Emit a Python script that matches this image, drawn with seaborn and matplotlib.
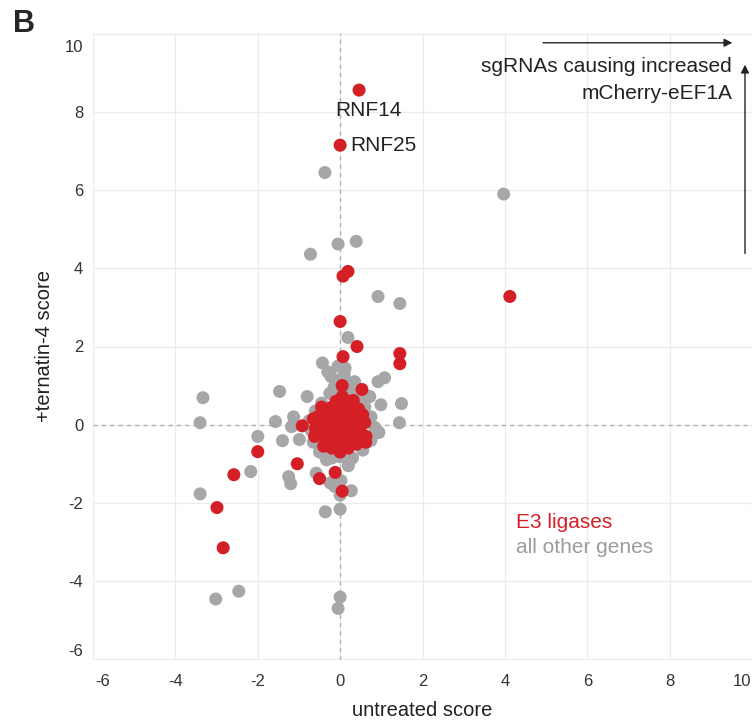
import pandas as pd
import seaborn as sns
import numpy as np
import matplotlib.pyplot as plt
import matplotlib.transforms as mtrans

# gray points: all other genes (untreated score, ternatin-4 score)
gray_x = [-0.37, 3.97, -0.05, 0.39, -0.72, 0.92, 1.45, 0.19, -0.43, -0.05,
          0.12, -0.22, 0.07, 0.92, 1.08, -1.47, -0.80, 0.36, 0.72, 0.99,
          1.49, 1.44, 0.94, -3.33, -3.40, -1.57, -1.13, -1.18, -1.40, -0.99,
          -2.00, -2.17, -1.25, -1.20, -3.40, 0.27, -0.36, 0.00, -3.02, -2.46,
          0.00, -0.05, -0.58, -0.33, -0.20, 0.00, -0.24, 0.02, -0.13, 0.00,
          0.20, -0.45, -0.60, 0.50, 0.60, 0.75, 0.84, 0.75, 0.55, -0.65,
          -0.70, -0.75, -0.40, 0.30, 0.15, -0.10, 0.25, -0.25, 0.92, 0.67,
          0.60, -0.60, -0.53, -0.30, 0.10, -0.15, 0.35, 0.45, -0.50, 0.20]
gray_y = [6.45, 5.90, 4.62, 4.69, 4.36, 3.28, 3.10, 2.23, 1.58, 1.50,
          1.45, 1.23, 1.20, 1.10, 1.20, 0.85, 0.72, 0.97, 0.72, 0.51,
          0.54, 0.05, -0.20, 0.69, 0.05, 0.08, 0.20, -0.05, -0.41, -0.38,
          -0.30, -1.20, -1.33, -1.51, -1.77, -1.69, -2.23, -2.16, -4.46, -4.26,
          -4.41, -4.70, -1.24, -0.90, -0.85, -0.82, -1.49, -1.43, -1.58, -1.80,
          -0.95, 0.55, 0.35, 0.60, 0.45, 0.20, -0.07, -0.40, -0.65, -0.45,
          -0.15, 0.10, -0.75, -0.85, 1.05, 1.00, 0.85, 0.80, -0.18, -0.44,
          0.13, -0.18, 0.20, 1.35, 1.30, 0.95, 1.10, 0.75, -0.70, -1.05]

# red points: E3 ligases
red_x = [0.46, 0.00, 4.12, 0.19, 0.07, 0.00, 0.41, 1.45, 1.45, 0.07,
         0.05, 0.53, 0.63, -0.92, -2.00, -2.58, -1.04, -0.50, -0.12, 0.05,
         -2.99, -2.84,
         0.00, 0.15, -0.15, 0.30, -0.30, 0.10, -0.10, 0.20, -0.20, 0.00,
         0.15, -0.10, 0.35, -0.35, 0.45, -0.50, 0.50, -0.50, 0.30, -0.30,
         0.10, -0.10, 0.20, 0.00, -0.60, 0.60, 0.40, -0.40, 0.25, -0.25,
         0.05, -0.05, 0.45, 0.62, -0.55, 0.05, 0.32,
         -0.45, -0.20, 0.10, 0.35, -0.65, 0.55, 0.55, -0.62, -0.35, 0.35,
         -0.15, 0.15, 0.00, -0.30, 0.30, 0.00, 0.20, -0.20, 0.45, -0.45]
red_y = [8.56, 7.15, 3.28, 3.92, 3.80, 2.64, 2.00, 1.82, 1.56, 1.74,
         1.00, 0.90, -0.30, -0.03, -0.69, -1.28, -1.00, -1.38, -1.22, -1.70,
         -2.12, -3.15,
         0.00, 0.10, 0.10, 0.00, 0.00, -0.20, -0.20, 0.30, 0.30, 0.45,
         0.55, 0.60, 0.35, 0.30, 0.10, 0.05, -0.20, -0.25, -0.35, -0.40,
         -0.50, -0.55, -0.60, -0.70, -0.10, 0.05, -0.50, -0.55, 0.15, -0.15,
         0.25, -0.35, 0.40, -0.45, 0.20, 0.72, 0.62,
         0.45, 0.45, 0.35, 0.15, 0.15, 0.25, -0.30, -0.30, -0.15, -0.15,
         -0.40, -0.30, 0.20, 0.15, 0.00, -0.45, 0.60, -0.60, -0.05, -0.05]

ticks = [-6, -4, -2, 0, 2, 4, 6, 8, 10]

red = '#d51f26'
gray = '#a7a7a9'

df = pd.DataFrame({
    'untreated score': gray_x + red_x,
    '+ternatin-4 score': gray_y + red_y,
    'group': ['all other genes'] * len(gray_x) + ['E3 ligases'] * len(red_x),
})

sns.set_theme(style='white')
plt.rcParams['font.family'] = ['Liberation Sans', 'DejaVu Sans']
plt.rcParams['axes.unicode_minus'] = False

fig = plt.figure(figsize=(7.52, 7.23), dpi=100)
ax = fig.add_axes([93 / 752, 63 / 723, 659 / 752, 627 / 723])

# grid and zero lines
for t in ticks:
    ax.axvline(t, color='#ececec', lw=0.9, zorder=0)
    ax.axhline(t, color='#ececec', lw=0.9, zorder=0)
ax.axvline(0, color='#b0b0b0', lw=1, ls=(0, (3, 3)), zorder=1)
ax.axhline(0, color='#b0b0b0', lw=1, ls=(0, (3, 3)), zorder=1)

sns.scatterplot(data=df, x='untreated score', y='+ternatin-4 score', hue='group',
                palette={'all other genes': gray, 'E3 ligases': red},
                s=88, linewidth=0, legend=False, ax=ax, zorder=3)

ax.set_xlim(-6, 10)
ax.set_ylim(-6.02, 10.02)
ax.set_xticks(ticks)
ax.set_yticks(ticks)
for s in ax.spines.values():
    s.set_visible(False)
ax.tick_params(axis='both', labelsize=12, colors='#333333', length=0)
ax.tick_params(axis='x', pad=10)
ax.tick_params(axis='y', pad=7)
ax.set_xlabel('untreated score', fontsize=14.5, color='#222222', labelpad=9)
ax.set_ylabel('+ternatin-4 score', fontsize=14.5, color='#222222', labelpad=8)

# edge tick labels pulled inward like the original
def shift(label, dx, dy):
    label.set_transform(label.get_transform() +
                        mtrans.ScaledTranslation(dx / 100, dy / 100, fig.dpi_scale_trans))

xl = ax.get_xticklabels()
yl = ax.get_yticklabels()
shift(xl[0], 10, 0)
shift(xl[-1], -10, 0)
shift(yl[0], 0, 9)
shift(yl[-1], 0, -12)

# gene labels
ax.text(-0.12, 8.03, 'RNF14', fontsize=15, color='#222222', ha='left', va='center')
ax.text(0.24, 7.15, 'RNF25', fontsize=15, color='#222222', ha='left', va='center')

# direction arrows
ax.annotate('', xy=(9.59, 9.77), xytext=(4.86, 9.77), annotation_clip=False,
            arrowprops=dict(arrowstyle='-|>', color='#222222', lw=1, mutation_scale=12))
ax.annotate('', xy=(9.83, 9.28), xytext=(9.83, 4.31), annotation_clip=False,
            arrowprops=dict(arrowstyle='-|>', color='#222222', lw=1, mutation_scale=12))
ax.text(9.52, 8.82, 'sgRNAs causing increased\nmCherry-eEF1A', fontsize=15,
        color='#222222', ha='right', va='center', multialignment='right', linespacing=1.5)

# legend as coloured text
ax.text(4.27, -2.51, 'E3 ligases', fontsize=15, color=red, ha='left', va='center')
ax.text(4.27, -3.15, 'all other genes', fontsize=15, color='#9c9c9e', ha='left', va='center')

fig.text(13 / 752, 1 - 9 / 723, 'B', fontsize=22, fontweight='bold', ha='left', va='top')

plt.savefig('out.png', dpi=100)
plt.close()
